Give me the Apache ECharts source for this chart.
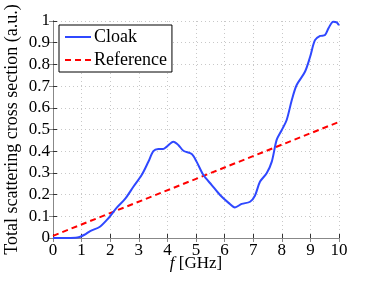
<!DOCTYPE html>
<html><head><meta charset="utf-8">
<script src="https://cdn.jsdelivr.net/npm/echarts@6/dist/echarts.min.js"></script>
<style>html,body{margin:0;padding:0;background:#fff}#c{width:374px;height:281px}</style>
</head><body><div id="c"></div>
<script>
const freqCloak = [0, 0.5, 0.85, 1.1, 1.3, 1.64, 1.93, 2.23, 2.52, 2.81, 3.1, 3.33, 3.51, 3.68, 3.85, 3.97, 4.21, 4.38, 4.56, 4.85, 5.02, 5.26, 5.55, 5.84, 6.13, 6.36, 6.6, 6.89, 7.06, 7.24, 7.47, 7.65, 7.82, 8.0, 8.17, 8.35, 8.52, 8.81, 8.99, 9.16, 9.34, 9.51, 9.63, 9.8, 9.92, 10];
const cloakValues = [0, 0, 0.002, 0.015, 0.032, 0.052, 0.09, 0.14, 0.18, 0.236, 0.29, 0.35, 0.40, 0.41, 0.41, 0.42, 0.444, 0.429, 0.402, 0.387, 0.352, 0.29, 0.244, 0.198, 0.163, 0.141, 0.157, 0.167, 0.195, 0.26, 0.298, 0.352, 0.452, 0.498, 0.544, 0.636, 0.705, 0.766, 0.835, 0.912, 0.931, 0.935, 0.966, 0.997, 0.994, 0.98];
const freqRef = [0, 10];
const refValues = [0.01, 0.535];
const xTicks = [0,1,2,3,4,5,6,7,8,9,10];
const yTicks = [0,0.1,0.2,0.3,0.4,0.5,0.6,0.7,0.8,0.9,1];

const font = '"Liberation Serif", "Times New Roman", "DejaVu Serif", serif';
const chart = echarts.init(document.getElementById('c'), null, {renderer:'canvas'});
const gridLine = {show:true, lineStyle:{color:'#c8c8c8', type:[1,3], width:1}};
chart.setOption({
  animation:false,
  backgroundColor:'#fff',
  textStyle:{fontFamily:font},
  grid:{left:53, right:35, top:21, bottom:43, containLabel:false, outerBoundsMode:'none'},
  legend:{
    orient:'vertical', left:59, top:25,
    backgroundColor:'#fff', borderColor:'#000', borderWidth:1, borderRadius:0,
    padding:[3,5,3,5], itemGap:5, itemWidth:26, itemHeight:14,
    itemStyle:{color:'transparent', borderWidth:0},
    textStyle:{fontFamily:font, fontSize:18, color:'#000', padding:[0,0,0,-2]},
    data:['Cloak','Reference']
  },
  xAxis:[{
    type:'value', min:0, max:10, interval:1,
    name:'{i|f} [GHz]', nameLocation:'middle', nameGap:17, nameMoveOverlap:false,
    nameTextStyle:{fontFamily:font, fontSize:17, color:'#000', rich:{i:{fontFamily:font, fontSize:17, fontStyle:'italic', color:'#000'}}},
    axisLine:{show:true, lineStyle:{color:'#333', width:1}},
    axisTick:{show:true, inside:true, length:4, lineStyle:{color:'#333'}},
    axisLabel:{fontFamily:font, fontSize:17, color:'#000', margin:4, formatter:v=>xTicks.includes(v)?String(v):''},
    splitLine:gridLine
  },{
    type:'value', position:'top', min:0, max:10, interval:1,
    axisLine:{show:true, lineStyle:{color:'#888', width:1}},
    axisTick:{show:true, inside:true, length:4, lineStyle:{color:'#888'}},
    axisLabel:{show:false}, splitLine:{show:false}
  }],
  yAxis:[{
    type:'value', min:0, max:1, interval:0.1,
    name:'Total scattering cross section (a.u.)', nameLocation:'middle', nameGap:32, nameMoveOverlap:false,
    nameTextStyle:{fontFamily:font, fontSize:18, color:'#000'},
    axisLine:{show:true, lineStyle:{color:'#333', width:1}},
    axisTick:{show:true, inside:true, length:4, lineStyle:{color:'#333'}},
    axisLabel:{fontFamily:font, fontSize:17, color:'#000', margin:3, formatter:v=>{const r=Math.round(v*10)/10; return yTicks.includes(r)?String(r):'';}},
    splitLine:gridLine
  },{
    type:'value', position:'right', min:0, max:1, interval:0.1,
    axisLine:{show:true, lineStyle:{color:'#888', width:1}},
    axisTick:{show:true, inside:true, length:4, lineStyle:{color:'#888'}},
    axisLabel:{show:false}, splitLine:{show:false}
  }],
  series:[{
    name:'Cloak', type:'line', smooth:0.3, showSymbol:false, symbol:'none',
    data:freqCloak.map((f,i)=>[f,cloakValues[i]]),
    lineStyle:{color:'#2f48ff', width:2}, itemStyle:{color:'#2f48ff'}, z:3
  },{
    name:'Reference', type:'line', showSymbol:false, symbol:'none',
    data:freqRef.map((f,i)=>[f,refValues[i]]),
    lineStyle:{color:'#ff0000', width:2, type:[6,4]}, itemStyle:{color:'#ff0000'}, z:2
  }]
});
</script></body></html>
